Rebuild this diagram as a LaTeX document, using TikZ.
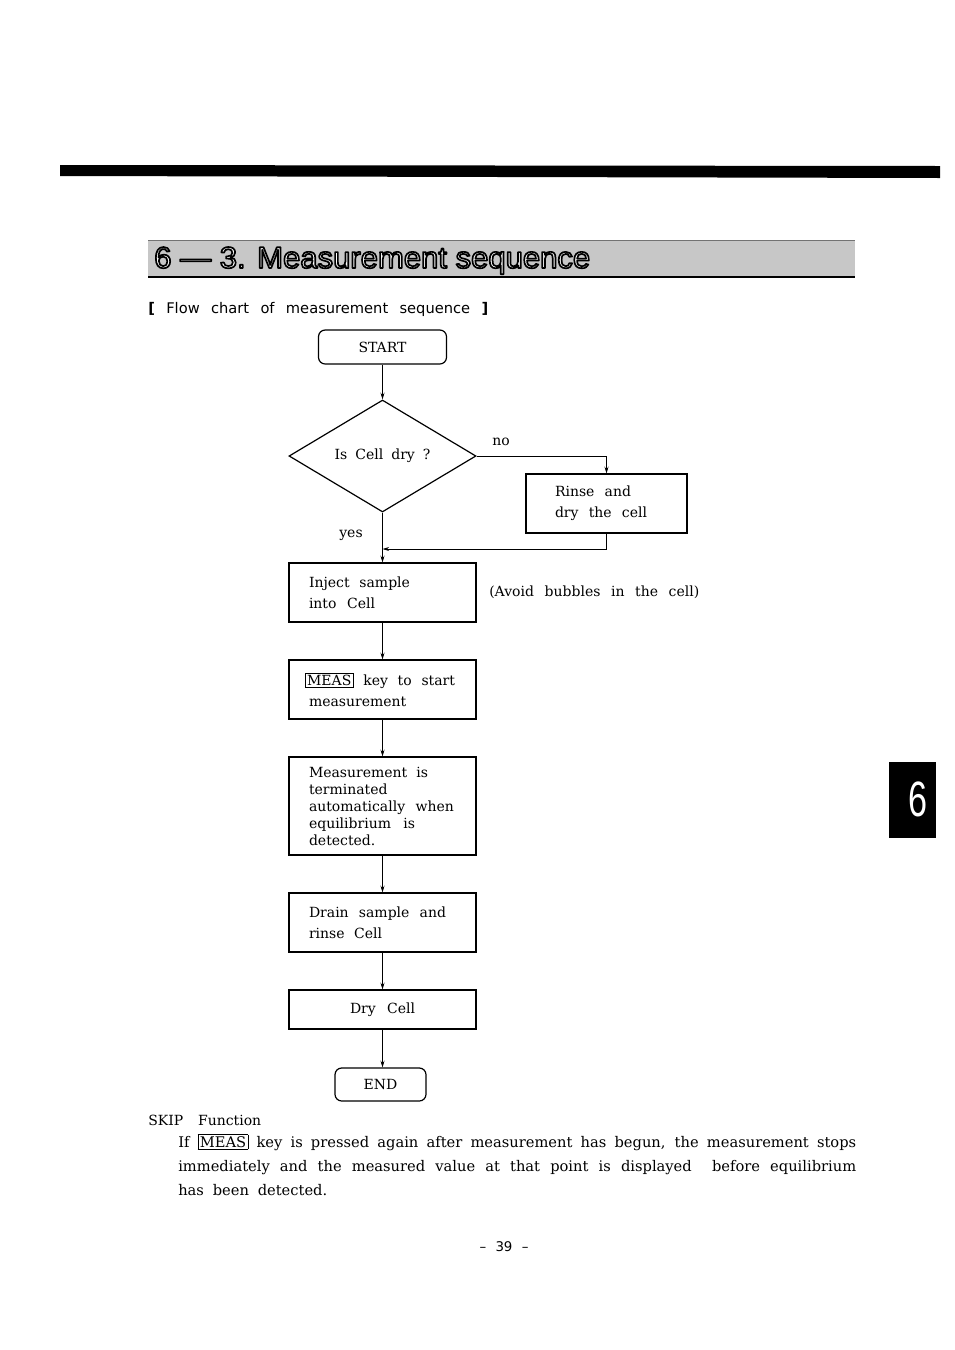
\documentclass[tikz,border=0pt]{standalone}
\usepackage{fontspec}
\setmainfont{DejaVu Serif}
\setsansfont{DejaVu Sans}
\newfontfamily\titlefont{Liberation Sans}
\usetikzlibrary{shapes.geometric,arrows.meta}
\newcommand\sline[2]{{\spaceskip=0.3em plus 1fil minus 0.1em\xspaceskip=0.4em plus 1fil\makebox[#1][s]{#2}}}
\newcommand\keybox[1]{{\setlength\fboxsep{1pt}\setlength\fboxrule{0.6pt}\fbox{#1}}}
\newcommand\outlined[1]{{\color{white}\special{pdf:literal direct 2 Tr 0.55 w 1 j 0 G}#1\special{pdf:literal direct 0 Tr}}}
\begin{document}
\begin{tikzpicture}[x=0.75pt,y=-0.75pt,
  box/.style={draw,line width=0.9pt,inner ysep=0pt,inner xsep=15pt,text width=110.25pt,align=left,font=\fontsize{10.5}{15.75}\selectfont},
  term/.style={draw,line width=0.9pt,rounded corners=5pt,inner sep=0pt,font=\fontsize{10.5}{12}\selectfont},
  arr/.style={-{Stealth[length=5pt,width=3pt]},line width=0.6pt},
  lbl/.style={inner sep=0pt,font=\fontsize{10.5}{12}\selectfont}]
\useasboundingbox (0,0) rectangle (954,1350);
% top bar
\fill (60,165) -- (940,166) -- (940,178) -- (60,176) -- cycle;
% title band
\fill[black!22] (148,240) rectangle (855,277);
\draw[black!55,line width=0.5pt] (148,240) -- (855,240);
\draw[line width=1.1pt] (148,277) -- (855,277);
\node[inner sep=0pt,anchor=base west] (title) at (154,268)
  {\resizebox{327pt}{15.75pt}{\titlefont\outlined{6 — 3. Measurement sequence}}};
% header
\node[lbl,anchor=base west,font=\sffamily\fontsize{11}{12}\selectfont] (hdr) at (148,313)
  {\sline{255pt}{\textbf{[} Flow chart of measurement sequence \textbf{]}}};
% flow chart
\node[term,minimum width=96pt,minimum height=25.5pt] (start) at (382.5,347) {START};
\node[diamond,draw,line width=0.9pt,minimum width=140.25pt,minimum height=84pt,inner sep=0pt,font=\fontsize{10.5}{12}\selectfont] (dry) at (382.5,456) {\sline{72pt}{Is Cell dry ?}};
\node[box,inner xsep=21.75pt,text width=77.25pt,minimum height=44.25pt] (rinse) at (606.5,503.5)
  {\sline{57pt}{Rinse and}\\\sline{69pt}{dry the cell}};
\node[box,minimum height=44.25pt] (inj) at (382.5,592.5)
  {\sline{75.75pt}{Inject sample}\\\sline{49.5pt}{into Cell}};
\node[box,minimum height=44.25pt] (meas) at (382.5,689.5)
  {\hspace*{-3pt}\sline{112.5pt}{\keybox{MEAS} key to start}\\measurement};
\node[box,minimum height=73.5pt,font=\fontsize{10.5}{12.75}\selectfont] (term) at (382.5,806)
  {\sline{89.25pt}{Measurement is}\\terminated\\\sline{108.75pt}{automatically when}\\\sline{79.5pt}{equilibrium is}\\detected.};
\node[box,minimum height=44.25pt] (drain) at (382.5,922.5)
  {\sline{102.75pt}{Drain sample and}\\\sline{54.75pt}{rinse Cell}};
\node[box,minimum height=29.25pt,align=center] (drycell) at (382.5,1009.5)
  {\sline{48.75pt}{Dry Cell}};
\node[term,minimum width=68.25pt,minimum height=24.75pt] (end) at (380.5,1084.5) {END};
\coordinate (join) at (382.5,549);
% labels
\node[lbl] (no) at (501,442) {no};
\node[lbl] (yes) at (351,535) {yes};
\node[lbl,anchor=west] (avoid) at (489,592) {\sline{157.5pt}{(Avoid bubbles in the cell)}};
% connectors
\draw[arr] (start.south) -- (dry.north);
\draw[arr] (dry.east) -| (rinse.north);
\draw[arr] (rinse.south) |- (join);
\draw[arr] (dry.south) -- (inj.north);
\draw[arr] (inj.south) -- (meas.north);
\draw[arr] (meas.south) -- (term.north);
\draw[arr] (term.south) -- (drain.north);
\draw[arr] (drain.south) -- (drycell.north);
\draw[arr] (drycell.south) -- (drycell.south |- end.north);
% skip function text
\node[lbl,anchor=base west] (skip) at (148,1125) {\sline{84.75pt}{SKIP Function}};
\node[lbl,anchor=north west,text width=508.5pt,align=left,font=\fontsize{11}{18}\selectfont] (para) at (178,1134)
  {\sline{508.5pt}{If \keybox{MEAS} key is pressed again after measurement has begun, the measurement stops}\\
   \sline{508.5pt}{immediately and the measured value at that point is displayed\ \ before equilibrium}\\
   \sline{111.75pt}{has been detected.}};
% page number
\node[lbl,font=\sffamily\fontsize{10}{11}\selectfont] (pg) at (504,1247) {\sline{36.75pt}{– 39 –}};
% side tab
\fill (889,762) rectangle (936,838);
\node[inner sep=0pt,text=white] (tab) at (917.5,799.5) {\resizebox{14.25pt}{26pt}{\titlefont 6}};
\end{tikzpicture}
\end{document}
